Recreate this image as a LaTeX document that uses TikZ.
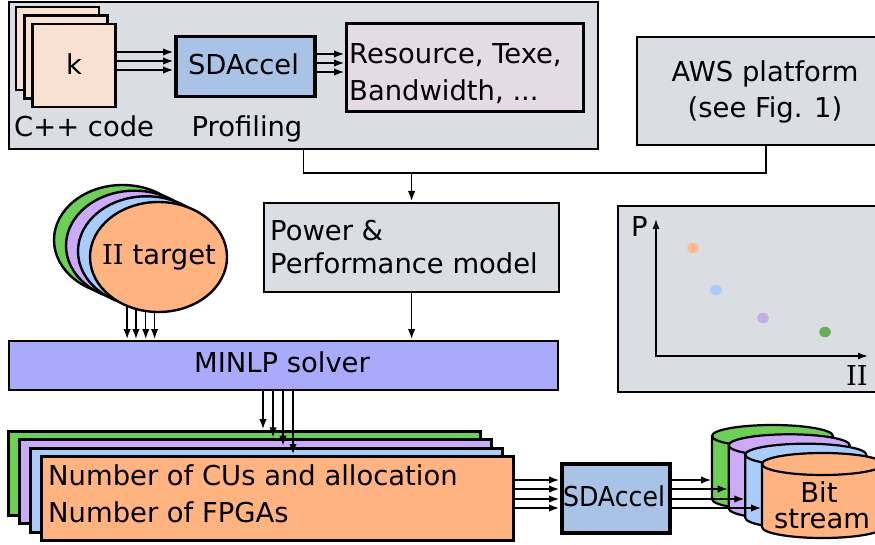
\documentclass[tikz,border=0pt]{standalone}
\usepackage{fontspec}
\setmainfont{DejaVu Sans}
\newfontfamily\serfam{DejaVu Serif}
\usetikzlibrary{arrows.meta,shapes.geometric}
\definecolor{boxgray}{HTML}{DADDE2}
\definecolor{peach}{HTML}{F9E1D1}
\definecolor{sdblue}{HTML}{A9C3E6}
\definecolor{respink}{HTML}{E5DCE3}
\definecolor{minlpblue}{HTML}{AAAAFA}
\definecolor{corange}{HTML}{FFB381}
\definecolor{cblue}{HTML}{AACCFA}
\definecolor{cpurple}{HTML}{CBABF8}
\definecolor{cgreen}{HTML}{6ECF57}
\tikzset{
 box/.style={draw=black, line width=2.2pt, inner sep=0, anchor=north west},
 txt/.style={font=\fontsize{27.4}{33}\selectfont, inner sep=0},
 conn/.style={line width=1.5pt},
 arr/.style={line width=1.5pt, -{Latex[length=10pt,width=7.5pt]}, shorten >=1pt},
 cylline/.style={line width=2.2pt},
}
\newcommand\mycyl[4]{%
  \draw[cylline, fill=#4] (#2,#3) -- (#2,#3+63)
    arc[start angle=180,end angle=360,x radius=60.5pt,y radius=11pt]
    -- (#2+121,#3)
    arc[start angle=0,end angle=180,x radius=60.5pt,y radius=11pt] -- cycle;
  \draw[cylline] (#2,#3) arc[start angle=180,end angle=360,x radius=60.5pt,y radius=11pt];
  \coordinate (#1) at (#2,#3+31.5);
}
\begin{document}
\begin{tikzpicture}[x=1pt,y=-1pt]
\useasboundingbox (0,0) rectangle (875,545);
\clip (0,0) rectangle (875,545);
\fill[white] (0,0) rectangle (875,545);

% ---- top profiling box
\node[box, fill=boxgray, minimum width=589pt, minimum height=147pt] (top) at (8,1) {};
\foreach \n/\cx/\cy in {k1/57.5/48.5, k2/65.8/57, k3/74/65.5}
  \node[draw, line width=2.6pt, fill=peach, minimum width=83pt, minimum height=83pt, inner sep=0] (\n) at (\cx,\cy) {};
\node[txt, anchor=base] (ktext) at (74,75) {k};
\node[txt, anchor=base west] (cpp) at (14,137) {C++ code};
\node[box, line width=3.5pt, fill=sdblue, minimum width=139pt, minimum height=60pt] (sd1) at (174,35) {};
\node[txt, anchor=base] (sd1t) at (243.5,75) {SDAccel};
\node[txt, anchor=base] (prof) at (247,137) {Profiling};
\node[box, line width=3pt, fill=respink, minimum width=237pt, minimum height=88pt] (res) at (345,22) {};
\node[txt, anchor=base west] (res1) at (349,64) {Resource, Texe,};
\node[txt, anchor=base west] (res2) at (349,101) {Bandwidth, ...};
\foreach \y in {52,61,70}
  \draw[arr] (k3.east |- 0,\y) -- (sd1.west |- 0,\y);
\foreach \y in {54,63,72}
  \draw[arr] (sd1.east |- 0,\y) -- (res.west |- 0,\y);

% ---- AWS
\node[box, fill=boxgray, minimum width=258pt, minimum height=108pt] (aws) at (636,36) {};
\node[txt, anchor=base] (aws1) at (765,82) {AWS platform};
\node[txt, anchor=base] (aws2) at (765,118) {(see Fig. 1)};

% ---- power model
\node[box, fill=boxgray, minimum width=295pt, minimum height=89pt] (power) at (263,202) {};
\node[txt, anchor=base west] (pw1) at (270,241) {Power \&};
\node[txt, anchor=base west] (pw2) at (270,274) {Performance model};
\draw[conn] (top.south) -- (top.south |- 0,173) -| (aws.south);
\draw[arr] (power.north |- 0,173) -- (power.north);

% ---- MINLP
\node[box, fill=minlpblue, minimum width=549pt, minimum height=49pt] (minlp) at (8,340) {};
\node[txt, anchor=base] (minlpt) at (282,372) {MINLP solver};
\draw[arr] (power.south) -- (power.south |- minlp.north);

% ---- II target ellipses
\foreach \n/\cx/\cy/\c in {ii3/122.5/240/cgreen, ii2/134.5/245.7/cpurple, ii1/146.5/251.3/cblue, ii0/158.5/257/corange}
  \node[draw, line width=2.4pt, fill=\c, ellipse, minimum width=137pt, minimum height=110pt, inner sep=0] (\n) at (\cx,\cy) {};
\node[txt, anchor=base] (iit) at (159,265) {{\serfam II} target};
\foreach \a in {238.2,247.6,257,266.4}
  \draw[arr] (ii0.\a) -- (ii0.\a |- minlp.north);

% ---- plot
\node[box, fill=boxgray, minimum width=270pt, minimum height=186pt] (plot) at (617,205) {};
\coordinate (orig) at (656,356);
\coordinate (ytip) at (656,219);
\coordinate (xtip) at (868,356);
\draw[line width=1.5pt, {Latex[length=10pt,width=7pt]}-{Latex[length=10pt,width=7pt]}] (ytip) -- (orig) -- (xtip);
\node[txt, anchor=base west] (plab) at (631,237) {P};
\node[txt, anchor=base east] (iilab) at (868,385) {\serfam II};
\fill[corange!90] (693,248) ellipse[x radius=6pt, y radius=5.2pt];
\fill[cblue] (716,290) ellipse[x radius=6pt, y radius=5.2pt];
\fill[cpurple!90!black!80] (763,318) ellipse[x radius=6pt, y radius=5.2pt];
\fill[cgreen!80!black!90] (825,332) ellipse[x radius=6pt, y radius=5.2pt];

% ---- result rectangles
\foreach \n/\x/\y/\c in {r3/7/430/cgreen, r2/18/438.3/cpurple, r1/29/446.7/cblue, r0/40/455/corange}
  \node[box, line width=2.8pt, fill=\c, minimum width=472pt, minimum height=84pt] (\n) at (\x,\y) {};
\foreach \x/\n in {263/r3, 273/r2, 283/r1, 293/r0}
  \draw[arr] (minlp.south -| \x,0) -- (\n.north -| \x,0);
\node[txt, anchor=base west] (nc1) at (48,485) {Number of CUs and allocation};
\node[txt, anchor=base west] (nc2) at (48,522) {Number of FPGAs};

% ---- SDAccel 2
\node[box, line width=3.5pt, fill=sdblue, minimum width=108pt, minimum height=69pt] (sd2) at (560,462) {};
\node[txt, anchor=base] (sd2t) at (614,506) {\scalebox{0.92}[1]{SDAccel}};
\foreach \y in {480,489,499,508}
  \draw[arr] (r0.east |- 0,\y) -- (sd2.west |- 0,\y);

% ---- bitstream cylinders
\mycyl{cg}{712}{436}{cgreen}
\mycyl{cp}{728.7}{445.3}{cpurple}
\mycyl{cb}{745.3}{454.7}{cblue}
\mycyl{co}{762}{464}{corange}
\node[txt, anchor=base] (bit) at (819,502) {Bit};
\node[txt, anchor=base] (stream) at (822,528) {stream};
\draw[arr] (sd2.east |- 0,480) -- (cg |- 0,480);
\draw[arr] (sd2.east |- 0,489) -- (cp |- 0,489);
\draw[arr] (sd2.east |- 0,499) -- (cb |- 0,499);
\draw[arr] (sd2.east |- 0,508) -- (co |- 0,508);
\end{tikzpicture}
\end{document}
